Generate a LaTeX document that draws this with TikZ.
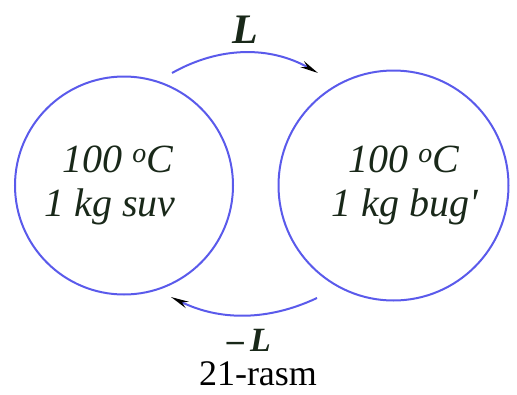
\documentclass[tikz,border=0pt]{standalone}
\usepackage{fontspec}
\setmainfont{Liberation Serif}
\usetikzlibrary{arrows.meta}
\definecolor{circblue}{RGB}{90,90,235}
\definecolor{txt}{RGB}{25,40,25}
\begin{document}
\begin{tikzpicture}[x=1pt,y=-1pt,
  ring/.style={draw=circblue,line width=2pt,circle,inner sep=0pt},
  flow/.style={draw=circblue,line width=2pt,-{Stealth[length=18pt,width=7pt,black]}},
  lbl/.style={text=txt,font=\fontsize{40}{44}\selectfont\itshape,inner sep=0pt,anchor=base},
  captxt/.style={text=black,font=\fontsize{36}{40}\selectfont,inner sep=0pt,anchor=base}]
\useasboundingbox (0,0) rectangle (517,394);
\node[ring,minimum size=218pt] (left) at (124,185.5) {};
\node[ring,minimum size=230pt] (right) at (393.5,185.5) {};
\node[lbl] (t1) at (118,172) {100 \textsuperscript{o}C};
\node[lbl] (t2) at (110,216) {1 kg suv};
\node[lbl] (t3) at (404,172) {100 \textsuperscript{o}C};
\node[lbl] (t4) at (405,216) {1 kg bug\textquotesingle};
\coordinate (a1) at (172,73);
\coordinate (a2) at (318,73);
\draw[flow] (a1) .. controls (220,46) and (270,46) .. (a2);
\coordinate (b1) at (317,298);
\coordinate (b2) at (171,297);
\draw[flow] (b1) .. controls (268,321) and (220,321) .. (b2);
\node[lbl,font=\fontsize{42}{46}\selectfont\bfseries\itshape] (L) at (245,43) {L};
\node[lbl,font=\fontsize{34}{38}\selectfont\bfseries\itshape] (mL) at (249,351) {\textendash\hspace{6pt}L};
\node[captxt] (c) at (258,385) {21-rasm};
\end{tikzpicture}
\end{document}
